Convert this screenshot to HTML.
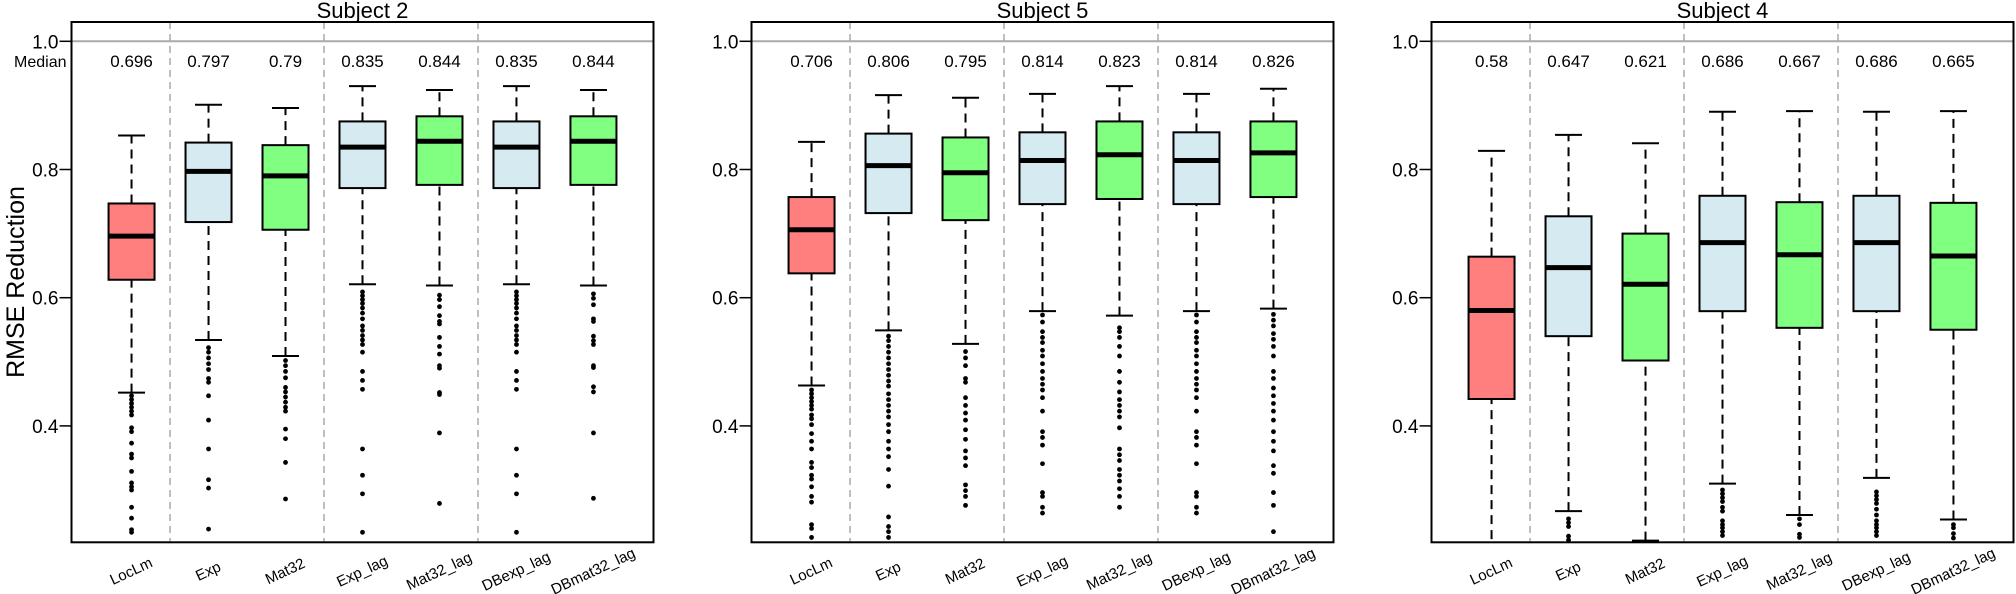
<!DOCTYPE html>
<html><head><meta charset="utf-8"><style>
body{margin:0;background:#fff}
svg{display:block;font-family:"Liberation Sans",Arial,sans-serif}
</style></head><body>
<svg id="chart" width="2016" height="594" viewBox="0 0 2016 594" xmlns="http://www.w3.org/2000/svg"></svg>
<script>
const categories=["LocLm","Exp","Mat32","Exp_lag","Mat32_lag","DBexp_lag","DBmat32_lag"];
const colors=["#FF7F7F","#D6EAF1","#80FF80","#D6EAF1","#80FF80","#D6EAF1","#80FF80"];
const subjects=["Subject 2","Subject 5","Subject 4"];
const yTicks=[0.4,0.6,0.8,1.0];
const yTickLabels=["0.4","0.6","0.8","1.0"];
// per-subject stats: [lowWhisker, q1, median, q3, highWhisker]
const s2Stats=[[0.452,0.628,0.696,0.747,0.853],[0.534,0.718,0.797,0.842,0.901],[0.509,0.706,0.790,0.838,0.896],[0.621,0.771,0.835,0.875,0.930],[0.619,0.776,0.844,0.883,0.924],[0.621,0.771,0.835,0.875,0.930],[0.619,0.776,0.844,0.883,0.924]];
const s5Stats=[[0.463,0.638,0.706,0.757,0.843],[0.549,0.732,0.806,0.856,0.916],[0.528,0.721,0.795,0.850,0.912],[0.579,0.746,0.814,0.858,0.918],[0.572,0.754,0.823,0.875,0.930],[0.579,0.746,0.814,0.858,0.918],[0.583,0.757,0.826,0.875,0.926]];
const s4Stats=[[0.20,0.442,0.580,0.664,0.829],[0.267,0.540,0.647,0.727,0.854],[0.221,0.502,0.621,0.700,0.841],[0.310,0.579,0.686,0.759,0.890],[0.261,0.553,0.667,0.749,0.891],[0.319,0.579,0.686,0.759,0.890],[0.254,0.550,0.665,0.748,0.891]];
const s2Medians=["0.696","0.797","0.79","0.835","0.844","0.835","0.844"];
const s5Medians=["0.706","0.806","0.795","0.814","0.823","0.814","0.826"];
const s4Medians=["0.58","0.647","0.621","0.686","0.667","0.686","0.665"];
const s2Out=[
[0.447,0.441,0.435,0.429,0.423,0.417,0.397,0.391,0.373,0.356,0.350,0.329,0.311,0.305,0.300,0.273,0.256,0.238,0.234],
[0.522,0.515,0.506,0.497,0.488,0.474,0.468,0.447,0.409,0.364,0.316,0.303,0.239],
[0.502,0.494,0.485,0.475,0.460,0.453,0.445,0.437,0.429,0.423,0.395,0.380,0.343,0.286],
[0.609,0.603,0.597,0.591,0.584,0.576,0.567,0.556,0.549,0.541,0.534,0.527,0.515,0.485,0.471,0.457,0.364,0.323,0.294,0.234],
[0.604,0.597,0.586,0.572,0.563,0.559,0.538,0.524,0.512,0.494,0.490,0.452,0.449,0.389,0.279],
[0.609,0.603,0.597,0.591,0.584,0.576,0.567,0.556,0.549,0.541,0.534,0.527,0.515,0.485,0.471,0.457,0.364,0.323,0.294,0.234],
[0.606,0.599,0.589,0.567,0.563,0.540,0.533,0.527,0.494,0.491,0.461,0.453,0.389,0.287]];
const s5Out=[
[0.456,0.450,0.444,0.438,0.432,0.426,0.417,0.411,0.402,0.388,0.376,0.364,0.343,0.335,0.323,0.317,0.305,0.290,0.281,0.246,0.240,0.226],
[0.540,0.533,0.524,0.515,0.506,0.497,0.488,0.479,0.470,0.462,0.450,0.441,0.432,0.423,0.414,0.402,0.391,0.376,0.364,0.352,0.332,0.306,0.258,0.243,0.235,0.226],
[0.516,0.506,0.494,0.474,0.468,0.444,0.432,0.420,0.409,0.394,0.379,0.361,0.350,0.338,0.308,0.299,0.290,0.276],
[0.573,0.562,0.547,0.538,0.530,0.518,0.509,0.497,0.485,0.474,0.465,0.456,0.444,0.423,0.391,0.382,0.370,0.341,0.296,0.290,0.273,0.264],
[0.553,0.547,0.538,0.524,0.509,0.485,0.468,0.453,0.441,0.432,0.423,0.414,0.397,0.364,0.355,0.346,0.332,0.323,0.314,0.302,0.290,0.273],
[0.573,0.562,0.547,0.538,0.530,0.518,0.509,0.497,0.485,0.474,0.465,0.456,0.444,0.423,0.391,0.382,0.370,0.341,0.296,0.290,0.273,0.264],
[0.574,0.565,0.556,0.544,0.535,0.524,0.509,0.485,0.474,0.459,0.447,0.435,0.423,0.409,0.391,0.376,0.361,0.338,0.326,0.296,0.276,0.235]];
const s4Out=[[],[0.255,0.249,0.243,0.228,0.222],[],[0.300,0.294,0.288,0.282,0.273,0.267,0.252,0.246,0.241,0.235,0.229],[0.255,0.246,0.231,0.226],[0.297,0.291,0.285,0.279,0.270,0.261,0.252,0.246,0.241,0.235,0.229],[0.246,0.241,0.232,0.225]];
const allStats=[s2Stats,s5Stats,s4Stats];
const allMedians=[s2Medians,s5Medians,s4Medians];
const allOut=[s2Out,s5Out,s4Out];

const NS="http://www.w3.org/2000/svg";
const svg=document.getElementById("chart");
function mk(tag,attrs,parent,text){const e=document.createElementNS(NS,tag);for(const k in attrs)e.setAttribute(k,attrs[k]);if(text!==undefined)e.textContent=text;(parent||svg).appendChild(e);return e;}
const panelLefts=[71.5,751.5,1431.5], PW=582, TOP=22, BOT=542.3;
const xMin=0.22,xMax=7.78;
function yS(v){return 41.3+(1-v)*641;}
function xS(p,i){return panelLefts[p]+(i-xMin)/(xMax-xMin)*PW;}

const yt=mk("text",{x:24,y:282,"font-size":25,"text-anchor":"middle",transform:"rotate(-90 24 282)"});


yt.textContent="RMSE Reduction";

for(let p=0;p<3;p++){
  const L=panelLefts[p];
  const g=mk("g",{});
  
  
  const clipId="clip"+p;
  const cp=mk("clipPath",{id:clipId},g);
  mk("rect",{x:L,y:TOP,width:PW,height:BOT-TOP},cp);
  const t=mk("text",{x:L+PW/2,y:18,"font-size":22,"text-anchor":"middle"},g,subjects[p]);
  
  
  const ref=mk("line",{x1:L,x2:L+PW,y1:yS(1),y2:yS(1),stroke:"#aaa","stroke-width":2},g);
  
  
  [1.5,3.5,5.5].forEach(s=>{const l=mk("line",{x1:xS(p,s),x2:xS(p,s),y1:TOP,y2:BOT,stroke:"#aaa","stroke-width":1.5,"stroke-dasharray":"7,5"},g);
    
    });
  yTicks.forEach((v,k)=>{mk("line",{x1:L-12,x2:L,y1:yS(v),y2:yS(v),stroke:"#000","stroke-width":1.5},g);
    const tl=mk("text",{x:L-13,y:yS(v)+7,"font-size":19,"text-anchor":"end"},g,yTickLabels[k]);
    
    });
  if(p===0){const m=mk("text",{x:L-5,y:67,"font-size":16,"text-anchor":"end"},g,"Median");
    
    }
  const cg=mk("g",{"clip-path":"url(#"+clipId+")"},g);
  for(let i=0;i<7;i++){
    const st=allStats[p][i], cx=xS(p,i+1), bw=46, cw=27;
    const bg=mk("g",{},cg);
    
    
    mk("line",{x1:cx,x2:cx,y1:yS(st[0]),y2:yS(st[1]),stroke:"#000","stroke-width":2,"stroke-dasharray":"9,6"},bg);
    mk("line",{x1:cx,x2:cx,y1:yS(st[3]),y2:yS(st[4]),stroke:"#000","stroke-width":2,"stroke-dasharray":"9,6"},bg);
    mk("line",{x1:cx-cw/2,x2:cx+cw/2,y1:yS(st[0]),y2:yS(st[0]),stroke:"#000","stroke-width":2},bg);
    mk("line",{x1:cx-cw/2,x2:cx+cw/2,y1:yS(st[4]),y2:yS(st[4]),stroke:"#000","stroke-width":2},bg);
    mk("rect",{x:cx-bw/2,y:yS(st[3]),width:bw,height:yS(st[1])-yS(st[3]),fill:colors[i],stroke:"#000","stroke-width":2},bg);
    mk("line",{x1:cx-bw/2,x2:cx+bw/2,y1:yS(st[2]),y2:yS(st[2]),stroke:"#000","stroke-width":5},bg);
    allOut[p][i].forEach(v=>{const c=mk("circle",{cx:cx,cy:yS(v),r:2.4,fill:"#000"},bg);
      
      });
    const mt=mk("text",{x:cx,y:67,"font-size":17,"text-anchor":"middle"},g,allMedians[p][i]);
    
    
    const xl=mk("text",{x:cx,y:576,"font-size":15,"text-anchor":"middle",transform:"rotate(-25 "+cx+" 572)"},g,categories[i]);
    
    
  }
  const fr=mk("rect",{x:L,y:TOP,width:PW,height:BOT-TOP,fill:"none",stroke:"#000","stroke-width":2},g);
  
  
}
</script>
</body></html>
